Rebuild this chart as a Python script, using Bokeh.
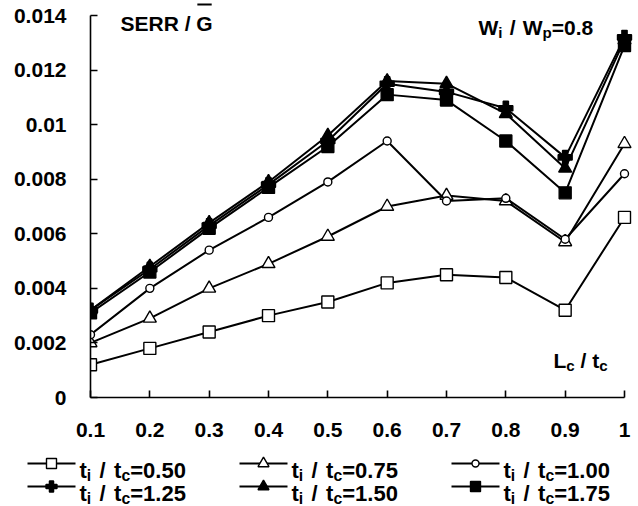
from bokeh.plotting import figure
from bokeh.models import Range1d, FixedTicker, CustomJSTickFormatter, Label
from bokeh.layouts import column
from bokeh.embed import file_html
from bokeh.resources import INLINE

# L_c / t_c positions along the horizontal axis
lc_tc = [0.1, 0.2, 0.3, 0.4, 0.5, 0.6, 0.7, 0.8, 0.9, 1.0]

# normalised strain energy release rate for each t_i / t_c ratio
serr_050 = [0.0012, 0.0018, 0.0024, 0.0030, 0.0035, 0.0042, 0.0045, 0.0044, 0.0032, 0.0066]
serr_075 = [0.0020, 0.0029, 0.0040, 0.0049, 0.0059, 0.0070, 0.0074, 0.0072, 0.0057, 0.0093]
serr_100 = [0.0023, 0.0040, 0.0054, 0.0066, 0.0079, 0.0094, 0.0072, 0.0073, 0.0058, 0.0082]
serr_125 = [0.0032, 0.0047, 0.0063, 0.0078, 0.0094, 0.0115, 0.0112, 0.0106, 0.0088, 0.0132]
serr_150 = [0.0032, 0.0048, 0.0064, 0.0079, 0.0096, 0.0116, 0.0115, 0.0104, 0.0084, 0.0131]
serr_175 = [0.0031, 0.0046, 0.0062, 0.0077, 0.0092, 0.0111, 0.0109, 0.0094, 0.0075, 0.0129]

ratio_labels = ["0.50", "0.75", "1.00", "1.25", "1.50", "1.75"]
x_ticks = [0.1, 0.2, 0.3, 0.4, 0.5, 0.6, 0.7, 0.8, 0.9, 1.0]
y_ticks = [0, 0.002, 0.004, 0.006, 0.008, 0.01, 0.012, 0.014]

FONT = "Liberation Sans"
SIZE = 21
SUB = 0.72

# series styling: marker, plot size, legend size, fill
styles = [
    ("square", 12, 10, "white"),
    ("triangle", 13, 11, "white"),
    ("circle", 8, 7, "white"),
    ("plus", 14, 11, "black"),
    ("triangle", 13, 11, "black"),
    ("square", 12, 10, "black"),
]
series = [serr_050, serr_075, serr_100, serr_125, serr_150, serr_175]

# canvas layout (pixels)
W, H_MAIN, H_LEG = 638, 450, 56
LEFT, AX_BOTTOM, AX_TOP, AX_RIGHT = 90, 397, 15, 624
X0, X1 = x_ticks[0], x_ticks[-1]
Y0, Y1 = y_ticks[0], y_ticks[-1]
x_per_px = (X1 - X0) / (AX_RIGHT - LEFT)
y_per_px = (Y1 - Y0) / (AX_BOTTOM - AX_TOP)


def dx(px):
    return X0 + (px - LEFT) * x_per_px


def dy(py):
    return Y0 + (AX_BOTTOM - py) * y_per_px


p = figure(width=W, height=H_MAIN, output_backend="svg", toolbar_location=None,
           x_range=Range1d(X0, dx(W)), y_range=Range1d(Y0, dy(0)),
           min_border_left=LEFT, min_border_right=0, min_border_top=0,
           min_border_bottom=H_MAIN - AX_BOTTOM)
p.frame_align = False
p.outline_line_color = None
p.xgrid.visible = False
p.ygrid.visible = False
p.background_fill_color = "white"
p.border_fill_color = "white"

fmt = CustomJSTickFormatter(code="return String(parseFloat(tick.toFixed(4)));")
for ax, ticks, bounds in ((p.xaxis[0], x_ticks, (X0, X1)), (p.yaxis[0], y_ticks, (Y0, Y1))):
    ax.ticker = FixedTicker(ticks=ticks)
    ax.formatter = fmt
    ax.bounds = bounds
    ax.axis_line_color = "black"
    ax.axis_line_width = 1.6
    ax.major_tick_line_color = "black"
    ax.major_tick_line_width = 1.6
    ax.major_tick_in = 7
    ax.major_tick_out = 0
    ax.minor_tick_line_color = None
    ax.major_label_text_font = FONT
    ax.major_label_text_font_style = "bold"
    ax.major_label_text_font_size = f"{SIZE}px"
    ax.major_label_text_color = "black"
p.xaxis[0].major_label_standoff = 25
p.yaxis[0].major_label_standoff = 24

for ys, (marker, size, _, fill) in zip(series, styles):
    p.line(lc_tc, ys, line_color="black", line_width=2)
    p.scatter(lc_tc, ys, marker=marker, size=size, fill_color=fill,
              line_color="black", line_width=1.4)

# Arial-bold advance widths (em) used to lay out text with subscripts
ADV = {".": .278, "/": .278, "=": .584, "t": .333, "i": .278, "c": .556,
       "p": .611, "W": .944, "L": .611, "S": .667, "E": .667, "R": .722, "G": .778}


def adv(s, size, space):
    return sum(space if ch == " " else ADV.get(ch, .556) for ch in s) * size


def rich_text(fig, pieces, x, y, conv_x, conv_y, size=SIZE, space=.278):
    """Place text pieces left to right; pieces flagged True are subscripts.
    Spaces only advance the pen, so every drawn piece has no blank edges."""
    for txt, sub in pieces:
        fs = size * SUB if sub else size
        by = y + (size * 0.22 if sub else 0)
        for k, word in enumerate(txt.split(" ")):
            if k:
                x += space * fs
            if word:
                fig.add_layout(Label(x=conv_x(x), y=conv_y(by), text=word,
                                     text_font=FONT, text_font_style="bold",
                                     text_font_size=f"{fs:.1f}px", text_color="black",
                                     text_align="left", text_baseline="alphabetic"))
                x += adv(word, fs, space)
    return x


# axis titles and case annotation
end = rich_text(p, [("SERR / G", False)], 120, 23, dx, dy)
g_w = adv("G", SIZE, .278)
p.segment(x0=[dx(end - g_w + 1)], y0=[dy(4)], x1=[dx(end - 1)], y1=[dy(4)],
          line_color="black", line_width=2)
rich_text(p, [("W", False), ("i", True), (" / W", False), ("p", True), ("=0.8", False)],
          478, 27, dx, dy, space=.34)
rich_text(p, [("L", False), ("c", True), (" / t", False), ("c", True)], 553, 360, dx, dy)

# legend panel
leg = figure(width=W, height=H_LEG, output_backend="svg", toolbar_location=None,
             x_range=Range1d(0, W), y_range=Range1d(H_LEG, 0),
             min_border=0, x_axis_location=None, y_axis_location=None)
leg.frame_align = False
leg.outline_line_color = None
leg.xgrid.visible = False
leg.ygrid.visible = False

col_x = [27, 239, 451]
row_y = [13, 36]
for i, (lab, (marker, _, lsize, fill)) in enumerate(zip(ratio_labels, styles)):
    cx, cy = col_x[i % 3], row_y[i // 3]
    leg.line([cx, cx + 48], [cy, cy], line_color="black", line_width=2)
    leg.scatter([cx + 24], [cy], marker=marker, size=lsize, fill_color=fill,
                line_color="black", line_width=1.4)
    rich_text(leg, [("t", False), ("i", True), (" / t", False), ("c", True), ("=" + lab, False)],
              cx + 52, cy + 7, lambda v: v, lambda v: v, size=22, space=.38)

layout = column(p, leg, spacing=0)
open("out.html", "w").write(file_html(layout, INLINE))
